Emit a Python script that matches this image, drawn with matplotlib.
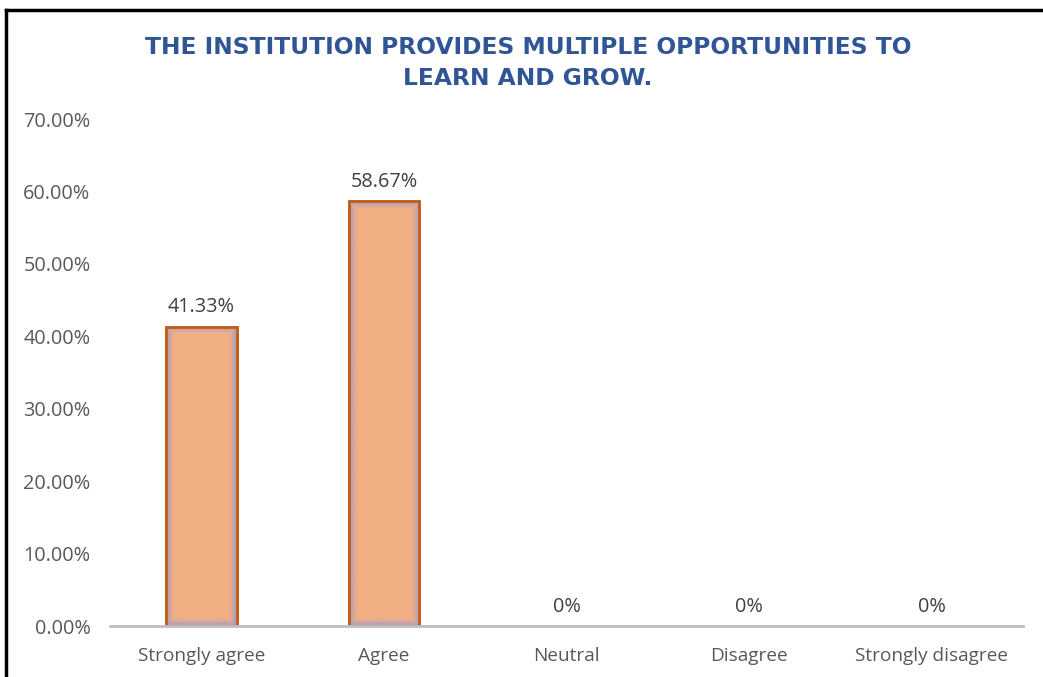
import numpy as np
import matplotlib.pyplot as plt
from matplotlib.lines import Line2D

# dane z wykresu
kategorie = ['Strongly agree', 'Agree', 'Neutral', 'Disagree', 'Strongly disagree']
procenty = [41.33, 58.67, 0, 0, 0]
etykiety = ['41.33%', '58.67%', '0%', '0%', '0%']
y_ticks = [0, 10, 20, 30, 40, 50, 60, 70]

plt.rcParams['font.family'] = ['Open Sans', 'DejaVu Sans']
szary = '#595959'

fig = plt.figure(figsize=(10.43, 6.77), dpi=100)
ax = fig.add_axes([0.1055, 0.0753, 0.8755, 0.7489])

x = range(len(kategorie))
ax.set_xlim(-0.5, len(kategorie) - 0.5)
ax.set_ylim(0, 70)
kolory_krawedzi = ['#C55A11' if v > 0 else 'none' for v in procenty]
slupki = ax.bar(x, procenty, width=0.385, color='#F2AF84', edgecolor=kolory_krawedzi,
                linewidth=1.8, zorder=3)

# niebieskawa poswiata wewnatrz slupkow
fig.canvas.draw()
for b in slupki:
    if b.get_height() <= 0:
        continue
    bb = b.get_window_extent()
    w, h = int(bb.width), int(bb.height)
    xx = np.arange(w)[None, :]
    yy = np.arange(h)[:, None]
    d = np.minimum(np.minimum(xx, w - 1 - xx), np.minimum(yy, h - 1 - yy))
    alfa = np.clip(1 - d / 8.0, 0, 1) ** 1.3 * 0.8
    obraz = np.zeros((h, w, 4))
    obraz[..., 0] = 0.58
    obraz[..., 1] = 0.60
    obraz[..., 2] = 0.82
    obraz[..., 3] = alfa
    im = ax.imshow(obraz, extent=(b.get_x(), b.get_x() + b.get_width(), 0, b.get_height()),
                   aspect='auto', zorder=3.5, interpolation='bilinear')
    im.set_clip_path(b)
    # obrys ponad poswiata
    ax.bar(b.get_x() + b.get_width() / 2, b.get_height(), width=b.get_width(),
           color='none', edgecolor='#C55A11', linewidth=1.8, zorder=4)

for xi, v, t in zip(x, procenty, etykiety):
    ax.text(xi, v + 1.3, t, ha='center', va='bottom', fontsize=14.3, color='#404040')

ax.set_yticks(y_ticks)
ax.set_yticklabels([f'{v:.2f}%' for v in y_ticks])
ax.set_xticks(list(x))
ax.set_xticklabels(kategorie)
ax.tick_params(axis='both', length=0, colors=szary)
ax.tick_params(axis='y', pad=14, labelsize=14.3)
ax.tick_params(axis='x', pad=15, labelsize=13.7)

for s in ['top', 'right', 'left']:
    ax.spines[s].set_visible(False)
ax.spines['bottom'].set_color('#BFBFBF')
ax.spines['bottom'].set_linewidth(2)
ax.spines['bottom'].set_zorder(5)

fig.text(0.506, 0.907, 'THE INSTITUTION PROVIDES MULTIPLE OPPORTUNITIES TO\nLEARN AND GROW.',
         ha='center', va='center', fontsize=16.8, fontweight='bold', color='#2F5597',
         linespacing=1.45, family='DejaVu Sans')

# ramka z lewej i u gory
fig.add_artist(Line2D([0.0058, 0.0058], [0, 0.985], color='black', linewidth=2.5))
fig.add_artist(Line2D([0.0058, 1], [0.985, 0.985], color='black', linewidth=2.5))

plt.savefig('out.png', dpi=100)
